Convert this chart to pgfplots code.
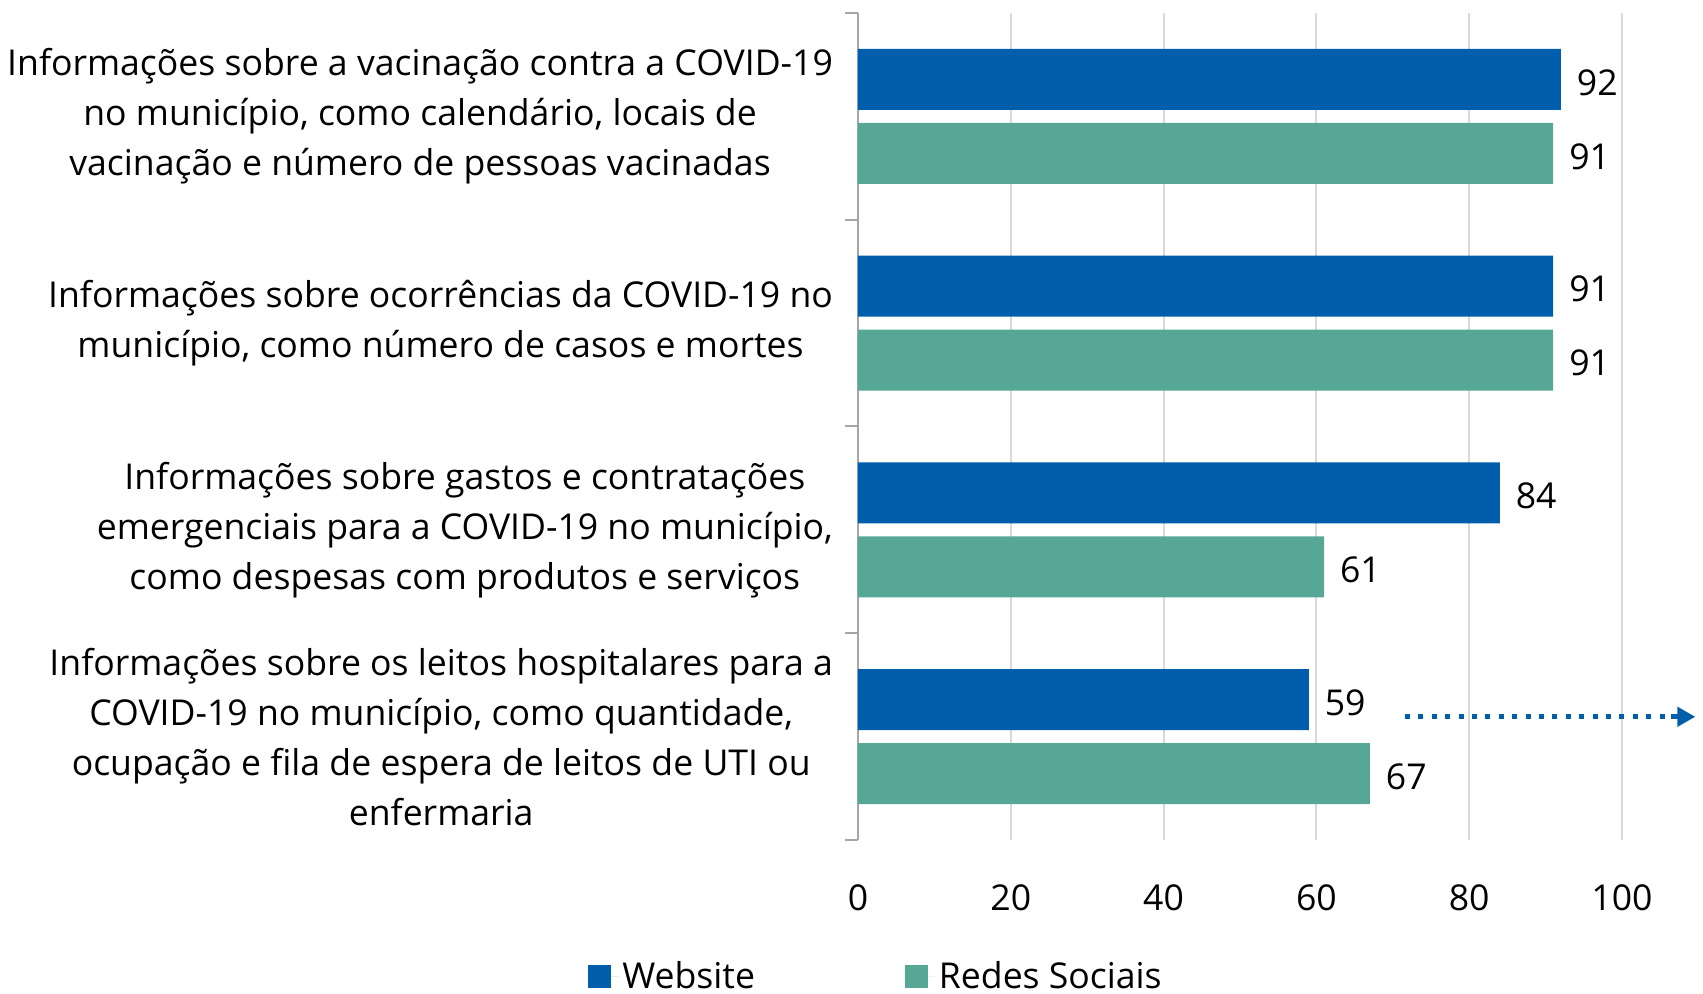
\documentclass[border=0pt]{standalone}
\usepackage{fontspec}
\setmainfont{Open Sans}
\usepackage{pgfplots}
\pgfplotsset{compat=1.18}
\usetikzlibrary{arrows.meta}
\definecolor{webblue}{RGB}{0,94,172}
\definecolor{redteal}{RGB}{87,167,150}
\definecolor{axgray}{RGB}{166,166,166}
\definecolor{gridgray}{RGB}{217,217,217}
\newcommand{\lblfont}{\fontsize{17.8}{25}\selectfont}
\begin{document}
\begin{tikzpicture}
\path[use as bounding box] (-429pt,-77pt) rectangle (422.5pt,420pt);
\begin{axis}[
  at={(0,0)}, anchor=south west,
  scale only axis, width=382pt, height=413.5pt,
  xmin=0, xmax=100, ymin=-0.5, ymax=3.5,
  xbar, bar width=30.5pt,
  clip=false,
  axis y line*=left, axis x line*=bottom,
  axis line style={-},
  x axis line style={draw=none},
  y axis line style={draw=axgray, line width=1pt},
  xtick={0,20,...,100},
  xmajorgrids, grid style={gridgray, line width=1pt},
  major tick length=0pt,
  tick align=outside,
  major x tick style={draw=none},
  y tick style={draw=axgray, line width=1pt},
  ytick={0,1,2,3},
  yticklabels={
    {Informações sobre os leitos hospitalares para a\\COVID-19 no município, como quantidade,\\ocupação e fila de espera de leitos de UTI ou\\enfermaria},
    {Informações sobre gastos e contratações\\emergenciais para a COVID-19 no município,\\como despesas com produtos e serviços},
    {Informações sobre ocorrências da COVID-19 no\\município, como número de casos e mortes},
    {Informações sobre a vacinação contra a COVID-19\\no município, como calendário, locais de\\vacinação e número de pessoas vacinadas}},
  yticklabel style={align=center, font=\lblfont, xshift=-9pt},
  extra y ticks={-0.5,0.5,1.5,2.5,3.5},
  extra y tick labels={},
  extra y tick style={grid=none, major tick length=6.5pt, tick align=outside},
  xticklabel style={font=\lblfont, yshift=-19pt},
  /pgf/number format/assume math mode=true,
  legend style={at={(0.025,-0.165)}, anchor=center, draw=none, fill=none,
    legend columns=2, font=\lblfont,
    /tikz/every even column/.append style={column sep=73pt}},
  legend image code/.code={\fill[#1] (0pt,-5.75pt) rectangle (11.5pt,5.75pt); \path (0pt,0pt) -- (15pt,0pt);},
]
\addplot[fill=webblue, draw=none, bar shift=18.5pt,
  nodes near coords, every node near coord/.append style={font=\lblfont, black, xshift=4.5pt, yshift=-1.5pt}]
  coordinates {(92,3) (91,2) (84,1) (59,0)};
\addlegendentry{Website}
\addplot[fill=redteal, draw=none, bar shift=-18.5pt,
  nodes near coords, every node near coord/.append style={font=\lblfont, black, xshift=4.5pt, yshift=-1.5pt}]
  coordinates {(91,3) (91,2) (61,1) (67,0)};
\addlegendentry{Redes Sociais}
\addplot[forget plot, sharp plot, webblue, line width=2.5pt, dash pattern=on 2.5pt off 4.2pt]
  coordinates {(71.6,0.096) (106.4,0.096)};
\addplot[forget plot, sharp plot, webblue, line width=2.5pt, -{Triangle[length=9pt,width=9.5pt]}]
  coordinates {(106.4,0.096) (109.6,0.096)};
\end{axis}
\end{tikzpicture}
\end{document}
